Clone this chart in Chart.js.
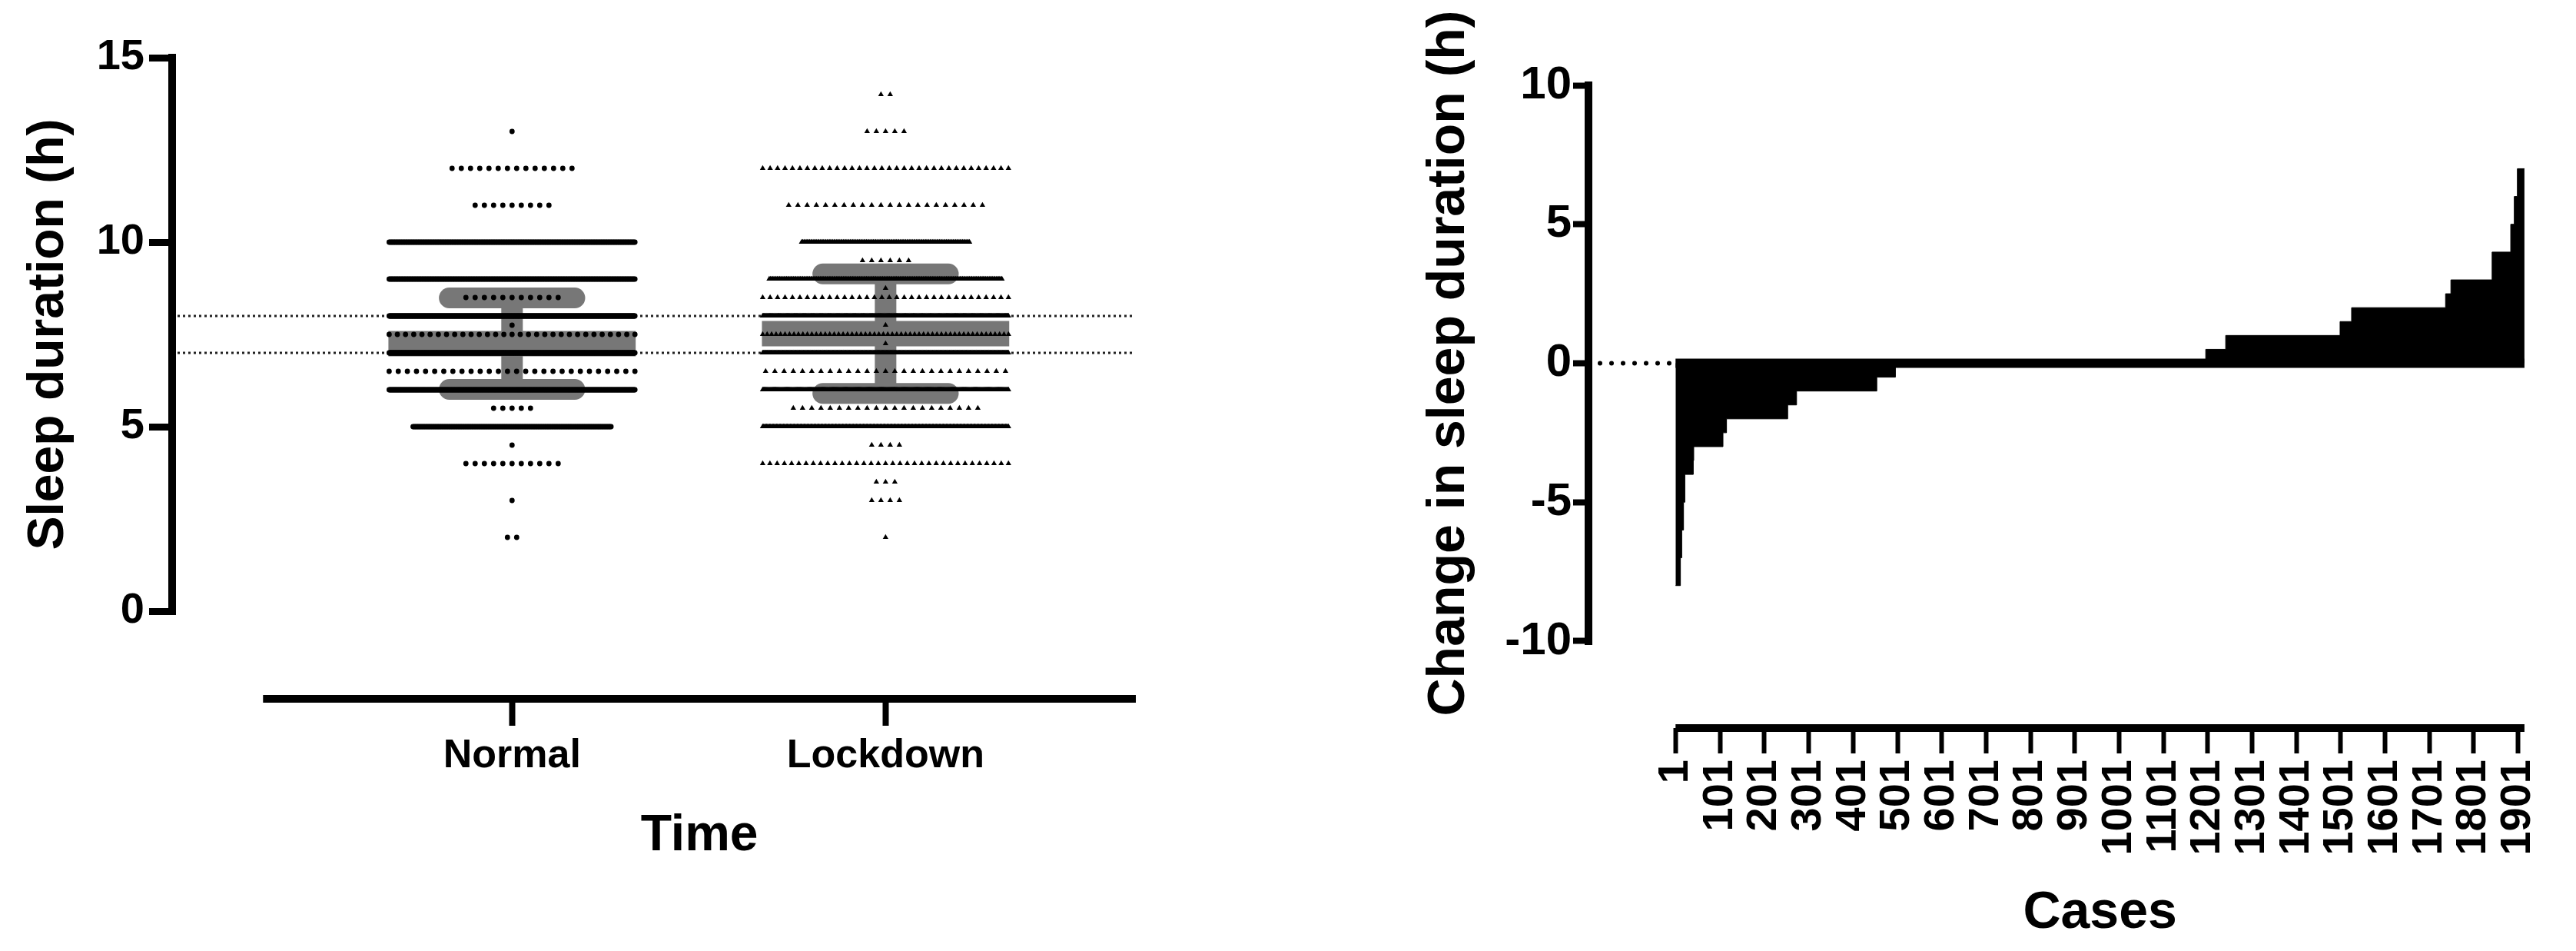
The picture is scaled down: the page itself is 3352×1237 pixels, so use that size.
<!DOCTYPE html>
<html>
<head>
<meta charset="utf-8">
<title>Sleep duration: normal vs lockdown</title>
<script src="https://cdn.jsdelivr.net/npm/chart.js@4.4.0/dist/chart.umd.min.js"></script>
<style>
  html, body { margin: 0; padding: 0; background: #fff; }
  body { width: 3352px; height: 1237px; position: relative; overflow: hidden; }
  canvas { position: absolute; top: 0; }
  #sleep { left: 0; }
  #change { left: 1700px; }
</style>
</head>
<body>
<canvas id="sleep" width="1560" height="1237"></canvas>
<canvas id="change" width="1652" height="1237"></canvas>
<script>
// left panel: reported sleep hours, how many people gave each value
const groups = ['Normal', 'Lockdown'];
const normalHours  = [13, 12, 11, 10, 9, 8.5, 8, 7.75, 7.5, 7, 6.5, 6, 5.5, 5, 4.5, 4, 3, 2];
const normalCounts = [1, 14, 9, 220, 225, 11, 420, 1, 31, 470, 28, 300, 5, 172, 1, 11, 1, 2];
const lockdownHours  = [14, 13, 12, 11, 10, 9.5, 9, 8.75, 8.5, 8, 7.75, 7.5, 7.25, 7, 6.5, 6, 5.5, 5, 4.5, 4, 3.5, 3, 2];
const lockdownCounts = [2, 5, 34, 22, 146, 6, 202, 1, 34, 350, 1, 56, 1, 380, 27, 300, 21, 250, 4, 35, 3, 4, 1];
const groupMeans = [7.25, 7.52];
const groupSds   = [1.24, 1.62];
const guideHours = [7, 8];
const sleepTicks = [0, 5, 10, 15];

// right panel: change per case, sorted, as runs of equal values
const changeHours = [-8, -7, -6, -5, -4, -3.5, -3, -2.5, -2, -1.5, -1, -0.5, 0, 0.5, 1, 1.5, 2, 2.5, 3, 4, 5, 6, 7];
const caseCounts  = [11, 3, 4, 3, 19, 1, 66, 8, 138, 20, 181, 42, 700, 45, 258, 26, 212, 12, 93, 42, 8, 7, 16];
const changeTicks = [-10, -5, 0, 5, 10];
const caseTicks   = [1, 101, 201, 301, 401, 501, 601, 701, 801, 901, 1001, 1101, 1201, 1301, 1401, 1501, 1601, 1701, 1801, 1901];

const FONT = '"Liberation Sans", Arial, Helvetica, sans-serif';
const GREY = '#777777';

// spread the points of one row sideways like a column scatter
function spreadRow(center, hours, count) {
  const maxW = 0.658, gap = 0.0247, dense = 0.0031;
  let step = 0;
  if (count > 1) step = count <= 60 ? Math.min(gap, maxW / (count - 1)) : Math.min(dense, maxW / (count - 1));
  const pts = [];
  for (let i = 0; i < count; i++) pts.push({ x: center + (i - (count - 1) / 2) * step, y: hours });
  return pts;
}

const normalPts = normalHours.flatMap((h, i) => spreadRow(1, h, normalCounts[i]));
const lockdownPts = lockdownHours.flatMap((h, i) => spreadRow(2, h, lockdownCounts[i]));

function statSets(g) {
  const c = g + 1, m = groupMeans[g], s = groupSds[g];
  const base = { type: 'line', borderColor: GREY, pointRadius: 0, order: 1 };
  return [
    { ...base, data: [{ x: c - 0.331, y: m }, { x: c + 0.331, y: m }], borderWidth: 33 },
    { ...base, data: [{ x: c, y: m - s }, { x: c, y: m + s }], borderWidth: 28 },
    { ...base, data: [{ x: c - 0.168, y: m + s }, { x: c + 0.168, y: m + s }], borderWidth: 27, borderCapStyle: 'round' },
    { ...base, data: [{ x: c - 0.168, y: m - s }, { x: c + 0.168, y: m - s }], borderWidth: 27, borderCapStyle: 'round' }
  ];
}

// axis lines that stop at the end ticks, plus axis titles centred on them
const frame = {
  id: 'frame',
  afterDraw(chart, args, o) {
    const { ctx, chartArea: a, scales: { x, y } } = chart;
    const x0 = x.getPixelForValue(o.xRange[0]), x1 = x.getPixelForValue(o.xRange[1]);
    const y0 = y.getPixelForValue(o.yRange[0]), y1 = y.getPixelForValue(o.yRange[1]);
    ctx.save();
    ctx.strokeStyle = '#000';
    ctx.lineWidth = o.lineWidth;
    ctx.lineCap = 'square';
    ctx.beginPath(); ctx.moveTo(a.left, y1); ctx.lineTo(a.left, y0); ctx.stroke();
    ctx.lineCap = 'butt';
    ctx.beginPath(); ctx.moveTo(x0, a.bottom); ctx.lineTo(x1, a.bottom); ctx.stroke();
    ctx.fillStyle = '#000';
    ctx.font = `bold ${o.titleSize}px ${FONT}`;
    ctx.textAlign = 'center';
    ctx.textBaseline = 'alphabetic';
    ctx.fillText(o.xTitle, (x0 + x1) / 2, o.xTitleBase);
    ctx.translate(o.yTitleBase, (y0 + y1) / 2);
    ctx.rotate(-Math.PI / 2);
    ctx.fillText(o.yTitle, 0, 0);
    ctx.restore();
  }
};

const tickGrid = (len, w) => ({ drawOnChartArea: false, tickLength: len, tickWidth: w, color: '#000' });

new Chart(document.getElementById('sleep'), {
  type: 'scatter',
  data: {
    datasets: [
      { data: normalPts, pointStyle: 'circle', pointRadius: 3.4, pointBorderWidth: 0, backgroundColor: '#000', order: 0 },
      { data: lockdownPts, pointStyle: 'triangle', pointRadius: 4.2, pointBorderWidth: 0, backgroundColor: '#000', order: 0 },
      ...statSets(0), ...statSets(1),
      ...guideHours.map(h => ({ type: 'line', data: [{ x: 0.09, y: h }, { x: 2.66, y: h }], borderColor: '#222',
        borderWidth: 3, borderDash: [3, 4], pointRadius: 0, order: 2 }))
    ]
  },
  options: {
    responsive: false, animation: false, events: [],
    layout: { padding: { top: 75, right: 82, left: 0, bottom: 0 } },
    plugins: {
      legend: { display: false }, tooltip: { enabled: false },
      frame: { xRange: [1 / 3, 2.67], yRange: [0, 15], lineWidth: 10, titleSize: 66,
        xTitle: 'Time', yTitle: 'Sleep duration (h)', xTitleBase: 1106, yTitleBase: 82 }
    },
    scales: {
      x: {
        type: 'linear', min: 0.09, max: 2.67,
        afterBuildTicks: s => { s.ticks = groups.map((_, i) => ({ value: i + 1 })); },
        afterFit: s => { s.height = 328; },
        ticks: { callback: v => groups[v - 1], color: '#000', padding: 8, maxRotation: 0, autoSkip: false,
          font: { family: FONT, size: 52, weight: 'bold' } },
        grid: tickGrid(35, 8), border: { display: false }
      },
      y: {
        min: -2.375, max: 15,
        afterBuildTicks: s => { s.ticks = sleepTicks.map(v => ({ value: v })); },
        afterFit: s => { s.width = 224; },
        ticks: { color: '#000', padding: 6, font: { family: FONT, size: 56, weight: 'bold' } },
        grid: tickGrid(30, 9), border: { display: false }
      }
    }
  },
  plugins: [frame]
});

// step outline of the sorted changes: each run starts half a case before its first case
const stepPoints = [];
let edge = 0.5;
changeHours.forEach((v, i) => { stepPoints.push({ x: edge, y: v }); edge += caseCounts[i]; });
stepPoints.push({ x: edge, y: changeHours[changeHours.length - 1] });

new Chart(document.getElementById('change'), {
  type: 'line',
  data: {
    datasets: [
      { data: stepPoints, stepped: true, fill: 'origin', backgroundColor: '#000', borderColor: '#000',
        borderWidth: 1, pointRadius: 0 },
      { data: [{ x: 0.5, y: 0 }, { x: edge, y: 0 }], borderColor: '#000', borderWidth: 12, pointRadius: 0 },
      { data: [{ x: -195.9, y: 0 }, { x: 0.5, y: 0 }], borderColor: '#000', borderWidth: 6,
        borderDash: [0, 15], borderCapStyle: 'round', pointRadius: 0 }
    ]
  },
  options: {
    responsive: false, animation: false, events: [],
    layout: { padding: { top: 111, right: 30, left: 0, bottom: 0 } },
    plugins: {
      legend: { display: false }, tooltip: { enabled: false },
      frame: { xRange: [0.5, edge], yRange: [-10, 10], lineWidth: 10, titleSize: 68,
        xTitle: 'Cases', yTitle: 'Change in sleep duration (h)', xTitleBase: 1207, yTitleBase: 205 }
    },
    scales: {
      x: {
        type: 'linear', min: -195.9, max: 1916.5,
        afterBuildTicks: s => { s.ticks = caseTicks.map(v => ({ value: v })); },
        afterFit: s => { s.height = 290; },
        ticks: { color: '#000', padding: 8, minRotation: 90, maxRotation: 90, autoSkip: false,
          callback: v => String(v), font: { family: FONT, size: 56, weight: 'bold' } },
        grid: tickGrid(33, 6), border: { display: false }
      },
      y: {
        min: -13.126, max: 10,
        afterBuildTicks: s => { s.ticks = changeTicks.map(v => ({ value: v })); },
        afterFit: s => { s.width = 367; },
        ticks: { color: '#000', padding: 2, font: { family: FONT, size: 60, weight: 'bold' } },
        grid: tickGrid(20, 8), border: { display: false }
      }
    }
  },
  plugins: [frame]
});
</script>
</body>
</html>
